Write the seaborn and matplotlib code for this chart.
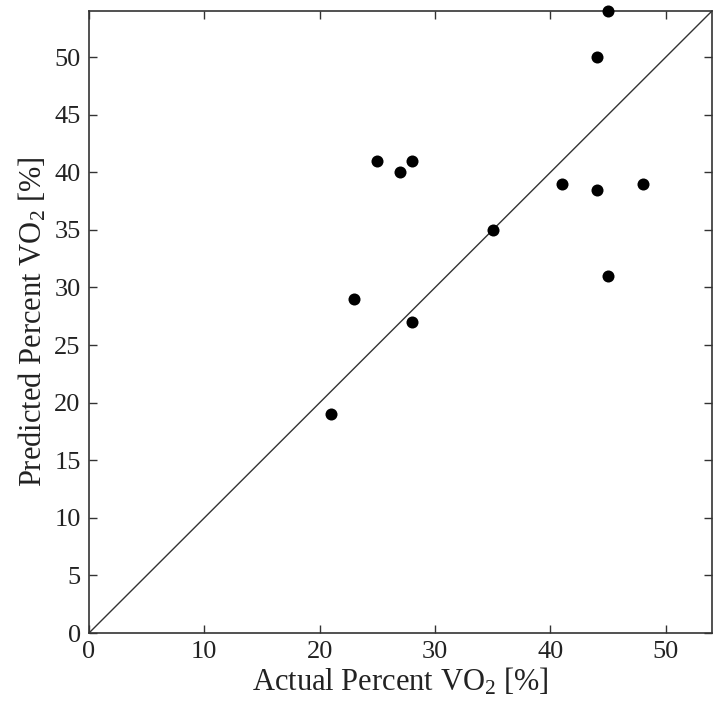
import numpy as np
import pandas as pd
import matplotlib
matplotlib.use('Agg')
import matplotlib.pyplot as plt
import seaborn as sns

# Values
actual = [21, 23, 25, 27, 28, 28, 35, 41, 44, 44, 45, 45, 48]
predicted = [19, 29, 41, 40, 41, 27, 35, 39, 38.5, 50, 54, 31, 39]
x_ticks = [0, 10, 20, 30, 40, 50]
y_ticks = [0, 5, 10, 15, 20, 25, 30, 35, 40, 45, 50]
lim = 54

df = pd.DataFrame({'actual': actual, 'predicted': predicted})

sns.set_style('white')
plt.rcParams['font.family'] = ['Liberation Serif', 'DejaVu Serif']
plt.rcParams['mathtext.default'] = 'regular'

fig = plt.figure(figsize=(7.21, 7.14), dpi=100)
ax = fig.add_axes([0.1234, 0.1134, 0.8641, 0.8712])

# identity line
ax.plot([0, lim], [0, lim], color='#333333', lw=1.0, zorder=1)

sns.scatterplot(data=df, x='actual', y='predicted', ax=ax, color='black',
                s=75, marker='o', edgecolor='black', linewidth=0, zorder=3,
                clip_on=False)

ax.set_xlim(0, lim)
ax.set_ylim(0, lim)
ax.set_xticks(x_ticks)
ax.set_yticks(y_ticks)
ax.tick_params(direction='in', length=6, width=1, colors='#333333',
               labelcolor='#222222', labelsize=19, top=True, right=True,
               bottom=True, left=True, pad=6)
for s in ax.spines.values():
    s.set_color('#333333')
    s.set_linewidth(1.2)

ax.set_xlabel('Actual Percent VO$_2$ [%]', fontsize=22, color='#222222', labelpad=2)
ax.set_ylabel('Predicted Percent VO$_2$ [%]', fontsize=22, color='#222222', labelpad=4)

fig.savefig('out.png', dpi=100)
